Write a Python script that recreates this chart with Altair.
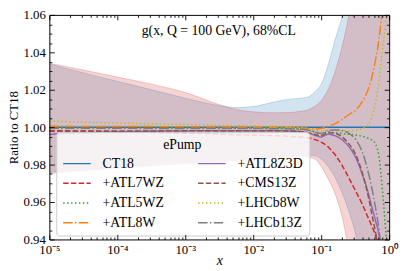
import altair as alt
import pandas as pd

FONT = "Liberation Serif"

# ---------------- data ----------------
x_vals = [1e-5, 3.2e-5, 1e-4, 3.2e-4, 1e-3, 3.2e-3, 5.6e-3, 1e-2, 1.8e-2, 3.2e-2,
          0.05, 0.063, 0.079, 0.1, 0.126, 0.158, 0.2, 0.25, 0.32, 0.4,
          0.5, 0.56, 0.63, 0.71, 0.79, 0.89, 1.0]

ct18_hi = [1.0338, 1.0290, 1.0245, 1.0200, 1.0155, 1.0115, 1.0105, 1.0110, 1.0130, 1.0148,
           1.0155, 1.0160, 1.0185, 1.0230, 1.0330, 1.0460, 1.0580, 1.0700, 1.085, 1.10,
           1.12, 1.13, 1.14, 1.15, 1.16, 1.17, 1.18]
ct18_lo = [0.9760, 0.9774, 0.9787, 0.9800, 0.9812, 0.9822, 0.9827, 0.9832, 0.9839, 0.9845,
           0.9850, 0.9850, 0.9848, 0.9830, 0.9790, 0.9735, 0.9655, 0.9560, 0.9430, 0.925,
           0.90, 0.88, 0.86, 0.84, 0.82, 0.80, 0.78]
epump_hi = [1.0342, 1.0305, 1.0268, 1.0230, 1.0185, 1.0120, 1.0095, 1.0082, 1.0077, 1.0078,
            1.0085, 1.0092, 1.0110, 1.0140, 1.0200, 1.0290, 1.0420, 1.0580, 1.080, 1.10,
            1.12, 1.13, 1.14, 1.15, 1.16, 1.17, 1.18]
epump_lo = [0.9753, 0.9767, 0.9780, 0.9793, 0.9805, 0.9815, 0.9820, 0.9825, 0.9832, 0.9838,
            0.9843, 0.9840, 0.9833, 0.9790, 0.9725, 0.9650, 0.9530, 0.9350, 0.90, 0.86,
            0.82, 0.80, 0.78, 0.76, 0.74, 0.72, 0.70]

series_names = ["CT18", "+ATL7WZ", "+ATL5WZ", "+ATL8W",
                "+ATL8Z3D", "+CMS13Z", "+LHCb8W", "+LHCb13Z"]
series_colors = ["#1f77b4", "#d62728", "#2ca02c", "#ff7f0e",
                 "#9467bd", "#8c564b", "#bcbd22", "#7f7f7f"]
series_dash = [[1, 0], [5.5, 2.4], [1.5, 2.5], [9.6, 2.4, 1.5, 2.4],
               [1, 0], [5.5, 2.4], [1.5, 2.5], [9.6, 2.4, 1.5, 2.4]]

r_ct18 = [1.0] * 27
r_atl7wz = [0.9982, 0.9979, 0.9976, 0.9972, 0.9968, 0.9963, 0.9960, 0.9958, 0.9955, 0.9951,
            0.9947, 0.9943, 0.9935, 0.9920, 0.9895, 0.9855, 0.9800, 0.9735, 0.966, 0.959,
            0.951, 0.947, 0.942, 0.935, 0.92, 0.90, 0.88]
r_atl5wz = [0.9998, 0.9997, 0.9996, 0.9996, 0.9995, 0.9995, 0.9994, 0.9994, 0.9993, 0.9992,
            0.9990, 0.9985, 0.9975, 0.9965, 0.9975, 0.9970, 0.9966, 0.9962, 0.9958, 0.9952,
            0.9940, 0.9930, 0.9910, 0.9840, 0.968, 0.945, 0.92]
r_atl8w = [1.0005, 1.0004, 1.0003, 1.0003, 1.0002, 1.0001, 1.0000, 1.0000, 0.9999, 0.9997,
           0.9995, 0.9993, 0.9990, 0.9993, 1.0005, 1.0018, 1.0040, 1.0065, 1.0090, 1.0135,
           1.0210, 1.0270, 1.0360, 1.0470, 1.0620, 1.08, 1.10]
r_atl8z3d = [0.9962, 0.9970, 0.9975, 0.9978, 0.9980, 0.9981, 0.9981, 0.9981, 0.9981, 0.9980,
             0.9976, 0.9970, 0.9958, 0.9948, 0.9962, 0.9955, 0.9935, 0.9900, 0.9840, 0.9750,
             0.9640, 0.9570, 0.9500, 0.9420, 0.925, 0.90, 0.88]
r_cms13z = [0.9978, 0.9979, 0.9980, 0.9980, 0.9981, 0.9981, 0.9981, 0.9981, 0.9981, 0.9980,
            0.9977, 0.9972, 0.9962, 0.9955, 0.9970, 0.9968, 0.9950, 0.9915, 0.9855, 0.9760,
            0.9620, 0.9530, 0.9440, 0.934, 0.92, 0.90, 0.88]
r_lhcb8w = [1.0033, 1.0027, 1.0022, 1.0018, 1.0014, 1.0010, 1.0008, 1.0006, 1.0004, 1.0002,
            0.9998, 0.9994, 0.9986, 0.9978, 0.9985, 0.9984, 0.9980, 0.9980, 0.9983, 0.9992,
            1.0015, 1.0060, 1.0130, 1.0250, 1.0400, 1.0550, 1.075]
r_lhcb13z = [0.9995, 0.9994, 0.9994, 0.9993, 0.9993, 0.9993, 0.9993, 0.9993, 0.9992, 0.9991,
             0.9989, 0.9985, 0.9976, 0.9966, 0.9982, 0.9985, 0.9982, 0.9970, 0.9935, 0.9870,
             0.9750, 0.9670, 0.9570, 0.9450, 0.93, 0.91, 0.89]
series_values = [r_ct18, r_atl7wz, r_atl5wz, r_atl8w, r_atl8z3d, r_cms13z, r_lhcb8w, r_lhcb13z]

x_major = [1e-5, 1e-4, 1e-3, 1e-2, 1e-1, 1.0]
x_tick_labels = ["10⁻⁵", "10⁻⁴", "10⁻³", "10⁻²", "10⁻¹", "10⁰"]
x_minor = [m * d for d in [1e-5, 1e-4, 1e-3, 1e-2, 1e-1] for m in range(2, 10)]
y_major = [0.94, 0.96, 0.98, 1.00, 1.02, 1.04, 1.06]
y_minor = [0.945, 0.95, 0.955, 0.965, 0.97, 0.975, 0.985, 0.99, 0.995,
           1.005, 1.01, 1.015, 1.025, 1.03, 1.035, 1.045, 1.05, 1.055]

title_text = "g(x, Q = 100 GeV),  68%CL"

# ---------------- tables ----------------
band = pd.DataFrame({"x": x_vals, "b_hi": ct18_hi, "b_lo": ct18_lo,
                     "r_hi": epump_hi, "r_lo": epump_lo})
rows = []
for name, vals in zip(series_names, series_values):
    for i, (xv, yv) in enumerate(zip(x_vals, vals)):
        rows.append({"x": xv, "y": yv, "series": name, "i": i})
lines = pd.DataFrame(rows)

xs = alt.Scale(type="log", domain=[1e-5, 1.0], nice=False)
ys = alt.Scale(domain=[0.94, 1.06], nice=False, zero=False)

expr = ("datum.value < 3e-5 ? '%s' : datum.value < 3e-4 ? '%s' : datum.value < 3e-3 ? '%s' : "
        "datum.value < 3e-2 ? '%s' : datum.value < 0.3 ? '%s' : '%s'") % tuple(x_tick_labels)

MAJ = {"expr": "-5"}
MIN = {"expr": "-2.5"}


def tick_axis(orient, values, size, domain=False):
    return alt.Axis(orient=orient, values=values, tickSize=size, labels=False,
                    domain=domain, domainColor="black", domainWidth=1,
                    grid=False, tickColor="black", tickWidth=0.9, zindex=1)


x_label_axis = alt.Axis(orient="bottom", values=x_major, labelExpr=expr, ticks=False,
                        domain=True, domainColor="black", domainWidth=1, grid=False,
                        labelFlush=False, labelOverlap=False, labelPadding=4,
                        labelFont=FONT, labelFontSize=13, labelColor="black",
                        title="x", titleFont=FONT, titleFontSize=14, titleFontStyle="italic",
                        titleFontWeight="normal", titleColor="black",
                        titleY=25, titleBaseline="alphabetic", zindex=1)
y_label_axis = alt.Axis(orient="left", values=y_major, format=".2f", ticks=False,
                        domain=True, domainColor="black", domainWidth=1, grid=False,
                        labelPadding=4, labelFont=FONT, labelFontSize=13, labelColor="black",
                        title="Ratio to CT18", titleFont=FONT, titleFontSize=13,
                        titleFontWeight="normal", titleColor="black",
                        titleX=-36, titleBaseline="middle", zindex=1)

base = alt.Chart(band)

blue_area = base.mark_area(color="#1f77b4", opacity=0.2, clip=True, interpolate="monotone").encode(
    x=alt.X("x:Q", scale=xs, axis=x_label_axis),
    y=alt.Y("b_lo:Q", scale=ys, axis=y_label_axis),
    y2="b_hi:Q",
)
red_area = base.mark_area(color="#d62728", opacity=0.2, clip=True, interpolate="monotone").encode(
    x=alt.X("x:Q", scale=xs, axis=tick_axis("bottom", x_major, MAJ), title=None),
    y=alt.Y("r_lo:Q", scale=ys, axis=tick_axis("left", y_major, MAJ), title=None),
    y2="r_hi:Q",
)
edge_kw = dict(strokeWidth=0.9, strokeOpacity=0.25, clip=True, interpolate="monotone")
blue_hi = base.mark_line(color="#1f77b4", **edge_kw).encode(
    x=alt.X("x:Q", scale=xs, axis=tick_axis("bottom", x_minor, MIN), title=None),
    y=alt.Y("b_hi:Q", scale=ys, axis=tick_axis("left", y_minor, MIN), title=None),
)
blue_lo = base.mark_line(color="#1f77b4", **edge_kw).encode(
    x=alt.X("x:Q", scale=xs, axis=tick_axis("top", x_major, MAJ, True), title=None),
    y=alt.Y("b_lo:Q", scale=ys, axis=tick_axis("right", y_major, MAJ, True), title=None),
)
red_hi = base.mark_line(color="#d62728", **edge_kw).encode(
    x=alt.X("x:Q", scale=xs, axis=tick_axis("top", x_minor, MIN), title=None),
    y=alt.Y("r_hi:Q", scale=ys, axis=tick_axis("right", y_minor, MIN), title=None),
)
red_lo = base.mark_line(color="#d62728", **edge_kw).encode(
    x=alt.X("x:Q", scale=xs, axis=None),
    y=alt.Y("r_lo:Q", scale=ys, axis=None),
)

leg = alt.Legend(title="ePump", orient="none", legendX=7, legendY=119, columns=2,
                 symbolType="M-2,0H2", symbolSize=196, symbolStrokeWidth=1.5,
                 symbolOffset=7, symbolFillColor="transparent",
                 labelFont=FONT, labelFontSize=14, labelColor="black", labelOffset=18,
                 titleFont=FONT, titleFontSize=14, titleFontWeight="normal", titleColor="black",
                 titleAnchor="middle", titlePadding=4,
                 fillColor="rgba(255,255,255,0.8)", strokeColor="#cccccc", cornerRadius=3,
                 padding=6, rowPadding=5, columnPadding=31)

line_layer = alt.Chart(lines).mark_line(strokeWidth=1.5, clip=True, interpolate="monotone").encode(
    x=alt.X("x:Q", scale=xs, axis=None),
    y=alt.Y("y:Q", scale=ys, axis=None),
    color=alt.Color("series:N", scale=alt.Scale(domain=series_names, range=series_colors), legend=leg),
    strokeDash=alt.StrokeDash("series:N", scale=alt.Scale(domain=series_names, range=series_dash), legend=leg),
    order="i:Q",
)

title_layer = alt.Chart(pd.DataFrame({"t": [title_text]})).mark_text(
    font=FONT, fontSize=14, color="black", align="center", baseline="middle"
).encode(text="t:N", x=alt.value(172), y=alt.value(16))

chart = alt.layer(
    blue_area, red_area, blue_hi, blue_lo, red_hi, red_lo, line_layer, title_layer
).resolve_axis(x="independent", y="independent").properties(
    width=345, height=228,
    autosize=alt.AutoSizeParams(type="none"),
    padding={"left": 42, "top": 5, "right": 10, "bottom": 28},
).configure_view(stroke=None)

chart.save("out.html", embed_options={"renderer": "svg", "actions": False})
